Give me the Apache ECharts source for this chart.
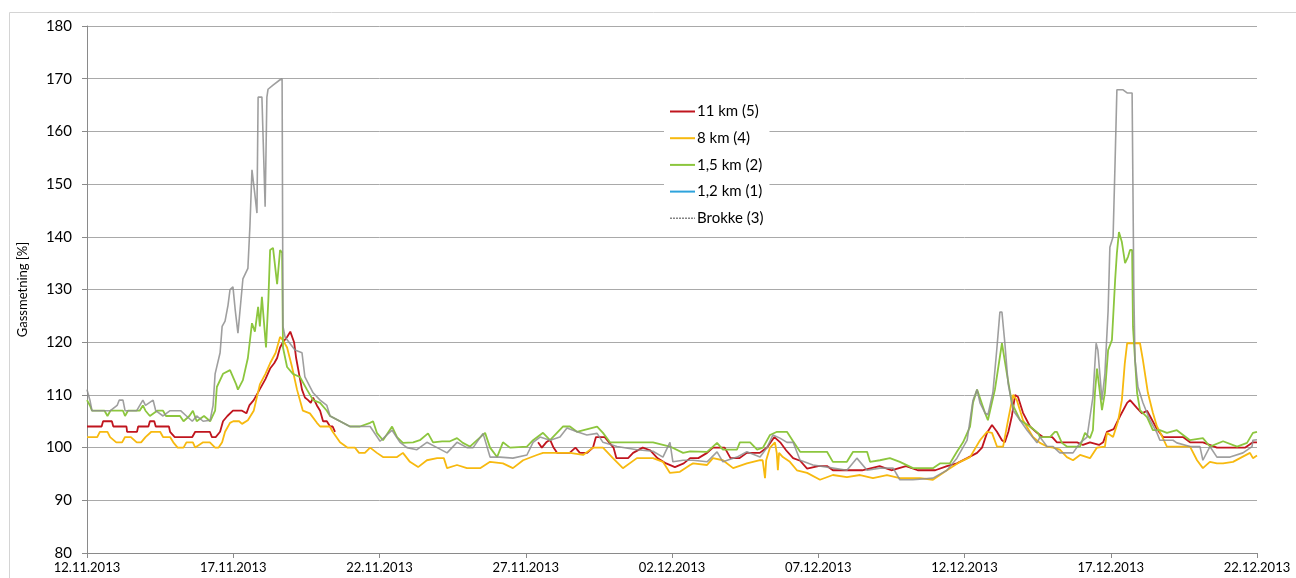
<!DOCTYPE html>
<html>
<head>
<meta charset="utf-8">
<script src="https://cdn.jsdelivr.net/npm/echarts@6/dist/echarts.min.js"></script>
<style>
  html, body { margin: 0; padding: 0; background: #fff; }
  #chart { width: 1296px; height: 578px; }
</style>
</head>
<body>
<div id="chart"></div>
<script>
// Gas saturation (%) at five measuring points, 12.11.2013 – 22.12.2013.
// Each point is [day since 12.11.2013, value]; '-' marks a break in the record.

const dateLabels = ['12.11.2013', '17.11.2013', '22.11.2013', '27.11.2013', '02.12.2013',
                    '07.12.2013', '12.12.2013', '17.12.2013', '22.12.2013'];
const yTicks = [80, 90, 100, 110, 120, 130, 140, 150, 160, 170, 180];
const seriesNames = ['11 km (5)', '8 km (4)', '1,5 km (2)', '1,2 km (1)', 'Brokke (3)'];

const km11 = [
  [0,104],[0.5,104],[0.55,105],[0.85,105],[0.9,104],[1.35,104],[1.37,103],[1.71,103],[1.75,104],[2.1,104],
  [2.15,105],[2.3,105],[2.35,104],[2.8,104],[2.84,103],[3.0,102],[3.6,102],[3.7,103],[4.2,103],[4.27,102],
  [4.4,102],[4.55,103],[4.65,105],[4.8,106],[4.99,107],[5.3,107],[5.45,106.5],[5.55,108],[5.7,109],[5.9,111],
  [6.1,113],[6.26,115],[6.4,116],[6.5,117],[6.6,119],[6.7,120],[6.84,121],[6.95,122],[7.01,122],[7.08,120],
  [7.15,117],[7.25,114],[7.35,111],[7.45,109.5],[7.56,109],[7.65,108.5],[7.73,109.5],[7.86,108],[7.97,107],
  [8.07,105],[8.2,105],[8.31,104],[8.4,104],[8.48,103],
  [8.6,'-'],
  [15.42,101],[15.55,100],[15.7,101],[15.83,101.5],[15.95,100],[16.07,99],[16.5,99],[16.7,100],[16.85,99],
  [17.1,99],[17.3,100],[17.4,102],[17.7,102],[17.85,101],[18.0,100],[18.1,98],[18.5,98],[18.67,99],[19.0,100],
  [19.25,99.5],[19.5,98],[19.8,97],[20.1,96.3],[20.4,97],[20.62,98],[20.9,98],[21.2,99],[21.4,100],[21.8,100],
  [22.0,98],[22.3,98],[22.56,99],[23.0,99],[23.25,100],[23.5,102],[23.7,101],[23.9,99.5],[24.14,98],[24.38,97.5],
  [24.62,96],[25.0,96.5],[25.3,96.5],[25.5,95.7],[26.0,95.7],[26.5,95.7],[27.1,96.5],[27.5,95.7],[28.0,96.5],
  [28.4,95.7],[29.0,95.7],[29.4,96.5],[29.74,97],[30.09,98],[30.43,99],[30.6,100],[30.77,102.8],[30.94,104.3],
  [31.11,103],[31.28,101.4],[31.38,101],[31.5,103],[31.62,106],[31.73,110],[31.83,109.6],[32.0,106.6],[32.24,104],
  [32.48,102.8],[32.68,102],[33.0,102],[33.16,101],[33.5,101],[33.85,101],[34.05,100.5],[34.29,101],[34.6,100.5],
  [34.74,101],[34.87,103],[35.1,103.5],[35.32,106],[35.56,108.5],[35.66,109],[35.9,107.5],[36.07,106.5],
  [36.24,107],[36.34,106],[36.58,103.5],[36.79,102],[37.26,102],[37.47,102],[37.71,101],[38.15,101],[38.63,100],
  [39.2,100],[39.6,100],[39.86,101],[40,101]
];

const km8 = [
  [0,102],[0.35,102],[0.44,103],[0.7,103],[0.79,102],[1.0,101],[1.2,101],[1.3,102],[1.5,102],[1.7,101],
  [1.85,101],[2.0,102],[2.2,103],[2.5,103],[2.6,102],[2.84,102],[2.95,101],[3.1,100],[3.3,100],[3.4,101],
  [3.62,101],[3.7,100],[3.97,101],[4.2,101],[4.38,100],[4.5,100],[4.62,101],[4.72,103],[4.89,104.7],[5.0,105],
  [5.2,105],[5.3,104.5],[5.5,105.2],[5.7,107],[5.91,112],[6.1,114],[6.26,116],[6.45,118],[6.6,121],[6.7,120.4],
  [6.84,119],[7.01,115.3],[7.18,111],[7.38,107],[7.62,106.5],[7.86,104.7],[7.97,104],[8.3,104],[8.4,103],
  [8.65,101],[8.9,100],[9.16,100],[9.3,99],[9.5,99],[9.68,100],[9.91,99],[10.12,98.2],[10.6,98.2],[10.8,99],
  [11.04,97.3],[11.32,96.3],[11.62,97.6],[11.97,98],[12.2,98],[12.31,96.1],[12.65,96.7],[12.99,96.1],[13.44,96.1],
  [13.78,97.3],[14.22,97],[14.56,96.1],[14.91,97.6],[15.38,98.6],[15.59,99],[16.51,99],[16.96,98.6],[17.3,100],
  [17.64,100],[17.98,98],[18.32,96.1],[18.8,98],[19.35,98],[19.69,97.3],[19.93,95.2],[20.27,95.4],[20.62,96.7],
  [20.72,97],[21.2,96.7],[21.4,98],[21.74,97.6],[22.09,96.1],[22.56,97],[23.01,97.6],[23.1,97.6],[23.18,94.2],
  [23.22,97.6],[23.35,100],[23.52,101],[23.58,99],[23.62,95.7],[23.66,99],[23.79,98.2],[24.03,97.3],[24.27,95.7],
  [24.62,95.2],[25.06,93.9],[25.5,94.8],[25.98,94.4],[26.43,94.8],[26.87,94.2],[27.35,94.8],[27.79,94.2],
  [28.48,94.2],[28.92,93.9],[29.4,95.7],[29.85,97.3],[30.19,98.2],[30.53,101.4],[30.77,103],[30.94,102.8],
  [31.11,100.2],[31.32,100.2],[31.49,105.2],[31.66,110],[31.79,109],[32.0,105.2],[32.34,102],[32.58,100.9],
  [32.82,100.2],[33.03,100],[33.26,99.6],[33.5,98.2],[33.71,97.6],[33.95,98.6],[34.29,98],[34.53,100],[34.8,100.2],
  [34.87,102.8],[35.08,102],[35.25,105],[35.38,109],[35.48,116],[35.56,119.8],[36.0,119.8],[36.1,116.6],
  [36.27,110.4],[36.44,106.6],[36.58,104],[36.68,103],[36.92,100.2],[37.26,100.2],[37.71,100.2],[37.95,97.6],
  [38.15,96.1],[38.39,97.3],[38.63,97],[38.84,97],[39.18,97.3],[39.42,98],[39.76,99],[39.86,98],[40,98.5]
];

const km15 = [
  [0,109],[0.1,108],[0.17,107],[0.6,107],[0.7,106],[0.8,107],[1.23,107],[1.3,106],[1.4,107],[1.8,107],
  [1.91,108],[2.0,107],[2.15,106],[2.4,107],[2.6,107],[2.7,106],[3.18,106],[3.3,105],[3.5,106],[3.62,107],
  [3.75,105],[4.0,106],[4.21,105],[4.38,107],[4.44,111.5],[4.65,114],[4.89,114.7],[5.1,112],[5.16,111],
  [5.33,112.8],[5.5,117],[5.64,123.6],[5.74,122],[5.85,126.7],[5.91,123],[5.98,128.6],[6.12,119],[6.2,128],
  [6.26,137.5],[6.36,137.9],[6.5,131],[6.53,131],[6.6,137.5],[6.67,137],[6.7,119],[6.84,115.3],[7.04,114],
  [7.28,113.4],[7.52,111],[7.73,109],[7.97,108.5],[8.2,107],[8.31,106],[8.65,105],[8.99,104],[9.33,104],
  [9.68,104.7],[9.78,105],[9.91,102.8],[10.12,101.4],[10.43,104],[10.6,102],[10.8,100.9],[11.15,101],
  [11.38,101.4],[11.66,102.7],[11.83,101],[12.14,101.2],[12.41,101.2],[12.65,101.8],[12.85,100.9],[13.09,100.2],
  [13.61,102.8],[13.78,100],[14.02,98.2],[14.22,101],[14.46,100],[15.04,100.2],[15.25,101.4],[15.59,102.8],
  [15.83,101.4],[16.27,104],[16.51,104],[16.75,103],[17.44,104],[17.64,102.8],[17.88,101],[18.32,101],
  [19.35,101],[19.93,100.2],[20.38,99],[20.62,99.3],[21.2,99.2],[21.54,100.9],[21.74,99.6],[22.22,99.6],
  [22.32,101],[22.67,101],[22.91,99.6],[23.11,100],[23.35,102.4],[23.59,103],[23.93,103],[24.14,101.2],
  [24.38,99.2],[25.3,99.2],[25.5,97.3],[25.98,97.3],[26.19,99.2],[26.67,99.2],[26.77,97.3],[27.11,97.6],
  [27.45,98],[27.79,97.3],[28.24,96.1],[28.92,96.1],[29.16,97],[29.5,97],[29.74,99.2],[29.95,101],[30.19,104],
  [30.29,108.5],[30.43,111],[30.7,106.6],[30.8,105.2],[31.04,111],[31.28,119.8],[31.45,114],[31.62,108.5],
  [31.9,105.2],[32.24,104],[32.51,102.8],[32.58,102],[32.92,102],[33.09,103],[33.16,103],[33.33,100.9],
  [33.5,100.2],[33.95,100.2],[34.12,102.8],[34.29,101.8],[34.39,103.3],[34.46,110.4],[34.53,115],[34.63,110.4],
  [34.7,107.1],[34.8,110.4],[34.91,118.5],[35.04,120.4],[35.15,131.8],[35.21,136.9],[35.28,140.9],[35.38,139],
  [35.49,135],[35.59,136.2],[35.66,137.5],[35.73,137.5],[35.76,122.9],[35.9,110.4],[36.0,107.1],[36.24,105.8],
  [36.44,103.3],[36.68,103.3],[36.92,102.8],[37.26,103.3],[37.71,101.4],[38.15,101.8],[38.39,100.2],
  [38.84,101.2],[39.32,100.2],[39.66,100.9],[39.86,102.8],[40,103]
];

// No readings were recorded at 1,2 km in this period.
const km12 = [];

const brokke = [
  [0,111],[0.1,109],[0.17,107],[0.8,107],[1.03,108],[1.1,109],[1.23,109],[1.3,107],[1.7,107],[1.91,109],
  [2.0,108],[2.26,109],[2.35,107],[2.6,106],[2.84,107],[3.2,107],[3.4,106],[3.6,105],[3.75,106],[3.97,105],
  [4.21,105.2],[4.31,108],[4.38,114],[4.55,118],[4.62,123],[4.72,124],[4.82,127],[4.89,130],[4.99,130.5],
  [5.07,126],[5.16,121.7],[5.33,132],[5.5,134],[5.57,142],[5.64,152.7],[5.74,148],[5.81,144.5],[5.85,166.5],
  [5.98,166.5],[6.09,145.7],[6.15,166.5],[6.19,168],[6.36,168.8],[6.6,169.8],[6.67,170],[6.7,123],[6.77,121],
  [7.11,118.5],[7.35,118],[7.45,113.4],[7.73,110.4],[7.97,109],[8.2,108],[8.31,106],[8.65,105],[8.99,104],
  [9.68,104],[10.02,101.2],[10.43,103.3],[10.7,101],[10.94,100],[11.28,99.6],[11.62,101],[11.97,100],[12.31,99],
  [12.65,101],[12.99,100],[13.2,100],[13.54,102.7],[13.78,98.2],[14.12,98.2],[14.56,98],[15.04,98.6],[15.25,101],
  [15.49,102],[15.83,101.4],[16.17,102],[16.41,103.7],[16.75,103],[17.09,102.4],[17.44,102.7],[17.64,101],
  [18.12,100.2],[18.8,99.6],[19.35,99.3],[19.69,98.2],[19.93,101],[20.03,97.3],[20.38,97.6],[20.72,97.6],
  [21.2,97.3],[21.54,99.2],[21.74,97.3],[22.22,98.2],[22.56,99.2],[23.01,98.2],[23.25,100],[23.45,102.4],
  [23.69,101.8],[23.93,101],[24.14,101],[24.38,97.6],[24.82,96.7],[25.3,96.3],[25.98,95.7],[26.32,98],
  [26.67,95.7],[27.11,96.1],[27.56,96.1],[27.79,93.9],[28.24,93.9],[28.92,94.2],[29.4,95.7],[29.74,98],
  [30.09,101.4],[30.29,109],[30.43,111],[30.53,108.5],[30.7,106.6],[30.8,106.2],[30.97,110.4],[31.11,119],
  [31.21,125.7],[31.28,125.7],[31.38,119.8],[31.49,112.2],[31.66,107.1],[31.9,105.2],[32.14,103.3],[32.48,100.9],
  [32.58,102],[32.82,100.2],[33.03,100.2],[33.26,99],[33.71,99],[33.95,100.9],[34.19,102],[34.39,109.6],
  [34.5,119.8],[34.56,118.5],[34.7,109],[34.8,114],[34.91,126],[34.97,138],[35.08,140],[35.15,154.6],
  [35.21,167.9],[35.42,167.9],[35.56,167.3],[35.73,167.3],[35.76,148.3],[35.79,129.3],[35.83,116.6],
  [35.93,111.5],[36.1,108.5],[36.34,105.2],[36.58,102.8],[36.68,101.4],[37.13,101.4],[37.26,100.9],
  [37.71,100.2],[38.05,100.2],[38.15,97.6],[38.39,100.2],[38.63,98.2],[39.08,98.2],[39.52,99],[39.83,100.2],
  [39.86,101.4],[40,101.5]
];

const seriesData = [km11, km8, km15, km12, brokke];
const seriesColors = ['#c0151e', '#f7b90f', '#8cc63e', '#2ea3dc', '#8e8e8e'];

const FONT = 'Lato, "Liberation Sans", sans-serif';
const chart = echarts.init(document.getElementById('chart'), null, { renderer: 'canvas' });

chart.setOption({
  animation: false,
  backgroundColor: '#ffffff',
  textStyle: { fontFamily: FONT, color: '#000' },
  graphic: [{
    type: 'rect',
    silent: true,
    z: -10,
    shape: { x: 9.5, y: 12.5, width: 1400, height: 700 },
    style: { fill: 'none', stroke: '#d4d4d4', lineWidth: 1 }
  }],
  grid: { left: 87, right: 39, top: 26, bottom: 25, containLabel: false },
  legend: {
    orient: 'vertical',
    left: 664,
    top: 100,
    padding: [3, 6, 3, 5],
    backgroundColor: '#ffffff',
    itemWidth: 25,
    itemHeight: 14,
    itemGap: 9.7,
    // line sample only, no marker
    itemStyle: { opacity: 0 },
    textStyle: { fontFamily: FONT, fontSize: 15, color: '#000', lineHeight: 17, padding: [0, 0, 0, -3] },
    data: seriesNames.map((n, i) => i === 4
      ? { name: n, lineStyle: { type: [2, 1], color: '#6f6f6f', width: 1.5 }, itemStyle: { opacity: 0 } }
      : { name: n, itemStyle: { opacity: 0 } })
  },
  xAxis: {
    type: 'value',
    min: 0,
    max: 40,
    interval: 5,
    axisLine: { show: true, onZero: false, lineStyle: { color: '#8a8a8a', width: 1 } },
    axisTick: { show: true, length: 5, inside: false, lineStyle: { color: '#8a8a8a' } },
    splitLine: { show: false },
    axisLabel: {
      margin: 8,
      fontSize: 13,
      fontFamily: FONT,
      color: '#000',
      showMinLabel: true,
      showMaxLabel: true,
      formatter: v => dateLabels[Math.round(v / 5)]
    }
  },
  yAxis: {
    type: 'value',
    min: yTicks[0],
    max: yTicks[yTicks.length - 1],
    interval: 10,
    name: 'Gassmetning [%]',
    nameLocation: 'middle',
    nameGap: 58,
    nameRotate: 90,
    nameTextStyle: { fontFamily: FONT, fontSize: 13, color: '#000' },
    axisLine: { show: true, lineStyle: { color: '#8a8a8a', width: 1 } },
    axisTick: { show: true, length: 5, lineStyle: { color: '#8a8a8a' } },
    splitLine: { show: true, lineStyle: { color: '#a9a9a9', width: 1 } },
    axisLabel: { margin: 15, fontSize: 15, fontFamily: FONT, color: '#000' }
  },
  series: seriesNames.map((name, i) => ({
    name: name,
    type: 'line',
    data: seriesData[i],
    symbol: 'none',
    showSymbol: false,
    connectNulls: false,
    z: 2 + i,
    lineStyle: {
      color: seriesColors[i],
      width: i === 4 ? 1.6 : 1.8,
      opacity: i === 4 ? 0.85 : 1
    },
    itemStyle: { color: seriesColors[i] }
  }))
});
</script>
</body>
</html>
